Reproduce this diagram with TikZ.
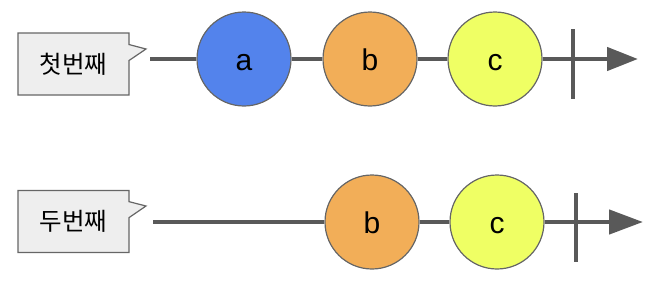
\documentclass[tikz,border=0pt]{standalone}
\usepackage{fontspec}
\setmainfont{Liberation Sans}
\newfontfamily\kofont{Noto Sans CJK KR}
\usetikzlibrary{arrows.meta,shapes.callouts}
\definecolor{marbleA}{HTML}{5383EC}
\definecolor{marbleB}{HTML}{F2AE58}
\definecolor{marbleC}{HTML}{EFFF64}
\definecolor{lineGray}{HTML}{595959}
\definecolor{edgeGray}{HTML}{666666}
\definecolor{boxGray}{HTML}{EEEEEE}
\begin{document}
\begin{tikzpicture}[x=1pt, y=-1pt,
    marble/.style={circle, draw=edgeGray, line width=1.2pt, minimum size=94pt, inner sep=0pt, text height=23pt, text depth=0pt, font=\fontsize{30}{30}\selectfont},
    label box/.style={rectangle callout, draw=edgeGray, fill=boxGray, line width=1.2pt, minimum width=111pt, minimum height=62pt, inner sep=0pt, text height=18pt, text depth=0pt, callout pointer width=16pt, font=\kofont\fontsize{24.5}{24.5}\selectfont},
    timeline/.style={draw=lineGray, line width=4.6pt},
    tick/.style={draw=lineGray, line width=4.4pt}]
    \useasboundingbox (0,0) rectangle (654,292);

    % first stream
    \node [label box, callout absolute pointer={(146,49)}] (l1) at (73.5,64) {첫번째};
    \coordinate (s1) at (150,59);
    \coordinate (t1) at (573,59);
    \coordinate (e1) at (638,59);
    \begin{scope}[every node/.style={marble}]
        \node [fill=marbleA] (a1) at (244,59) {a};
        \node [fill=marbleB] (b1) at (370,59) {b};
        \node [fill=marbleC] (c1) at (495,59) {c};
    \end{scope}

    % second stream
    \node [label box, callout absolute pointer={(146,206)}] (l2) at (73.5,221.5) {두번째};
    \coordinate (s2) at (153,222);
    \coordinate (t2) at (576,222);
    \coordinate (e2) at (643,222);
    \begin{scope}[every node/.style={marble}]
        \node [fill=marbleB] (b2) at (372,222) {b};
        \node [fill=marbleC] (c2) at (497,222) {c};
    \end{scope}

    \begin{scope}[timeline]
        \draw (s1) -- (a1);
        \draw (a1) -- (b1);
        \draw (b1) -- (c1);
        \draw [-{Triangle[length=31pt,width=23pt]}, lineGray] (c1) -- (e1);
        \draw (s2) -- (b2);
        \draw (b2) -- (c2);
        \draw [-{Triangle[length=34pt,width=24pt]}, lineGray] (c2) -- (e2);
    \end{scope}

    \draw [tick] ([yshift=30pt]t1) -- ([yshift=-40pt]t1);
    \draw [tick] ([yshift=29pt]t2) -- ([yshift=-40pt]t2);
\end{tikzpicture}
\end{document}
